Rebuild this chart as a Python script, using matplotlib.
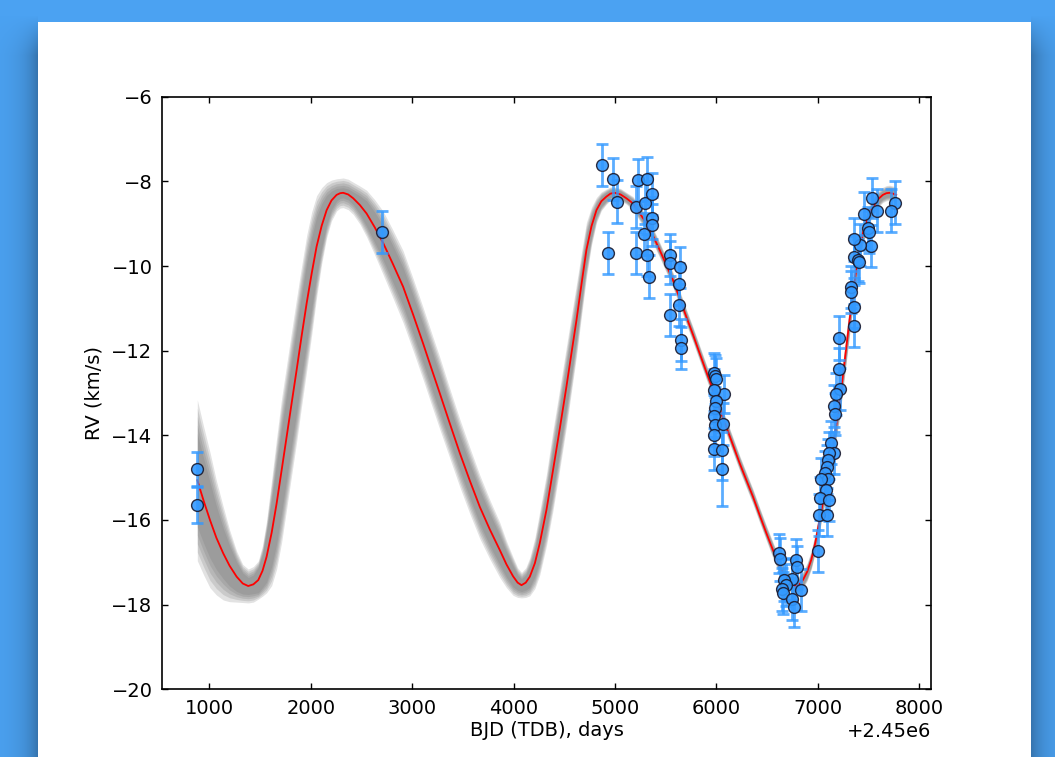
import numpy as np
import matplotlib
matplotlib.use("Agg")
import matplotlib.pyplot as plt

# BJD offset used on the x axis
t0 = 2450000

# observed radial velocities (days after t0, km/s, error)
obs_t = [876, 876, 2701,
         4876, 4928, 4984, 5017, 5204, 5211, 5227, 5286, 5292, 5315, 5319,
         5332, 5362, 5368, 5368,
         5539, 5539, 5637, 5631, 5631, 5546, 5646, 5646,
         5975, 5982, 5992, 6071, 5972, 5992, 5982, 5975, 5982, 6064, 5975,
         5979, 6058, 6058,
         7000, 6616, 6630, 6787, 6793, 6748, 6665, 6689, 6650, 6655, 6829,
         6748, 6761,
         7765, 7716, 7585, 7532, 7453, 7493, 7502, 7526, 7411, 7352, 7352,
         7394, 7404, 7329, 7329, 7352, 7352, 7207, 7207, 7214, 7174, 7158,
         7165, 7132, 7155, 7108, 7099, 7093, 7066, 7099, 7034, 7076, 7024,
         7108, 7010, 7093]
obs_rv = [-14.80, -15.65, -9.20,
          -7.61, -9.69, -7.94, -8.48, -9.70, -8.60, -7.97, -9.24, -8.50, -9.74, -7.94,
          -10.25, -8.30, -8.86, -9.03,
          -9.74, -9.92, -10.03, -10.43, -10.92, -11.16, -11.75, -11.94,
          -12.52, -12.60, -12.68, -13.03, -12.93, -13.20, -13.36, -13.54, -13.76, -13.73, -13.99,
          -14.33, -14.35, -14.80,
          -16.73, -16.79, -16.93, -16.95, -17.12, -17.40, -17.42, -17.53, -17.64, -17.73, -17.65,
          -17.87, -18.05,
          -8.50, -8.69, -8.69, -8.39, -8.76, -9.11, -9.19, -9.53, -9.50, -9.37, -9.78,
          -9.86, -9.90, -10.49, -10.61, -10.96, -11.41, -11.71, -12.44, -12.90, -13.02, -13.31,
          -13.50, -14.17, -14.42, -14.42, -14.58, -14.74, -14.88, -15.02, -15.04, -15.29, -15.49,
          -15.53, -15.88, -15.88]
obs_err = [0.40, 0.43, 0.50,
           0.50, 0.50, 0.50, 0.51, 0.50, 0.50, 0.50, 0.50, 0.50, 0.50, 0.52,
           0.51, 0.49, 0.50, 0.50,
           0.50, 0.50, 0.49, 0.50, 0.50, 0.50, 0.50, 0.50,
           0.47, 0.50, 0.50, 0.45, 0.50, 0.50, 0.50, 0.50, 0.50, 0.50, 0.50,
           0.50, 0.70, 0.87,
           0.49, 0.47, 0.50, 0.50, 0.50, 0.50, 0.50, 0.50, 0.50, 0.50, 0.50,
           0.50, 0.47,
           0.50, 0.50, 0.50, 0.47, 0.50, 0.50, 0.50, 0.50, 0.50, 0.50, 0.50,
           0.50, 0.50, 0.50, 0.50, 0.50, 0.51, 0.52, 0.50, 0.50, 0.50, 0.50,
           0.50, 0.50, 0.50, 0.50, 0.50, 0.50, 0.50, 0.50, 0.50, 0.50, 0.50,
           0.50, 0.50, 0.50]

# best-fit orbit (red line)
model_t = [882, 945, 1007, 1070, 1138, 1200, 1270, 1330, 1384, 1435,
           1483, 1525, 1565, 1615, 1664, 1713, 1763, 1812, 1861, 1910,
           1960, 2010, 2058, 2108, 2157, 2205, 2255, 2290, 2320, 2370,
           2419, 2485, 2551, 2630, 2715, 2810, 2911, 3010, 3108, 3190,
           3273, 3370, 3470, 3570, 3667, 3765, 3864, 3930, 3995, 4040,
           4078, 4120, 4160, 4210, 4258, 4325, 4389, 4455, 4521, 4570,
           4620, 4670, 4718, 4768, 4817, 4865, 4915, 4955, 4997, 5055,
           5112, 5177, 5243, 5309, 5375, 5440, 5505, 5571, 5637, 5703,
           5770, 5834, 5900, 5966, 6030, 6097, 6163, 6229, 6295, 6360,
           6425, 6492, 6560, 6623, 6675, 6721, 6770, 6810, 6852, 6895,
           6935, 6976, 7017, 7066, 7115, 7165, 7214, 7263, 7312, 7345,
           7378, 7410, 7443, 7490, 7542, 7590, 7640, 7675, 7706, 7740,
           7772]
model_rv = [-15.06, -15.55, -16.00, -16.42, -16.79, -17.08, -17.34, -17.50, -17.56, -17.52,
            -17.42, -17.20, -16.87, -16.30, -15.61, -14.83, -14.03, -13.24, -12.46, -11.66,
            -10.88, -10.17, -9.54, -9.05, -8.68, -8.45, -8.32, -8.28, -8.27, -8.31,
            -8.40, -8.56, -8.76, -9.08, -9.46, -9.95, -10.49, -11.15, -11.83, -12.42,
            -13.01, -13.71, -14.42, -15.08, -15.69, -16.22, -16.71, -17.05, -17.33, -17.48,
            -17.54, -17.48, -17.34, -17.02, -16.55, -15.75, -14.82, -13.85, -12.85, -12.07,
            -11.28, -10.42, -9.62, -9.06, -8.68, -8.47, -8.36, -8.29, -8.27, -8.31,
            -8.40, -8.52, -8.75, -8.99, -9.29, -9.62, -9.97, -10.33, -10.76, -11.20,
            -11.63, -12.06, -12.50, -12.93, -13.37, -13.80, -14.23, -14.66, -15.06, -15.45,
            -15.88, -16.31, -16.73, -17.10, -17.35, -17.50, -17.56, -17.53, -17.42, -17.22,
            -16.94, -16.52, -16.00, -15.38, -14.74, -14.02, -13.24, -12.26, -11.28, -10.65,
            -10.09, -9.62, -9.23, -8.87, -8.60, -8.43, -8.32, -8.28, -8.27, -8.29,
            -8.32]

# half widths of the posterior sample bundle (dense core and faint outskirts)
band_core = [1.10, 1.00, 0.90, 0.75, 0.60, 0.48, 0.35, 0.25, 0.20, 0.22,
             0.30, 0.40, 0.60, 0.80, 0.95, 1.00, 1.00, 1.00, 1.00, 0.98,
             0.95, 0.85, 0.70, 0.52, 0.35, 0.22, 0.15, 0.12, 0.12, 0.13,
             0.15, 0.22, 0.30, 0.36, 0.40, 0.43, 0.45, 0.45, 0.45, 0.45,
             0.45, 0.42, 0.40, 0.40, 0.40, 0.38, 0.35, 0.30, 0.25, 0.18,
             0.15, 0.18, 0.25, 0.32, 0.40, 0.45, 0.50, 0.50, 0.50, 0.48,
             0.45, 0.40, 0.35, 0.25, 0.15, 0.12, 0.10, 0.09, 0.08, 0.08,
             0.08, 0.09, 0.10, 0.10, 0.10, 0.10, 0.10, 0.10, 0.10, 0.10,
             0.10, 0.10, 0.10, 0.10, 0.10, 0.10, 0.10, 0.10, 0.10, 0.10,
             0.10, 0.10, 0.11, 0.12, 0.12, 0.12, 0.12, 0.12, 0.12, 0.13,
             0.14, 0.15, 0.16, 0.17, 0.18, 0.19, 0.20, 0.21, 0.22, 0.21,
             0.20, 0.18, 0.16, 0.14, 0.12, 0.11, 0.10, 0.10, 0.10, 0.10,
             0.10]
band_outer = [1.90, 1.75, 1.60, 1.35, 1.10, 0.85, 0.60, 0.45, 0.40, 0.42,
              0.45, 0.60, 0.85, 1.25, 1.55, 1.70, 1.70, 1.70, 1.70, 1.65,
              1.60, 1.45, 1.20, 0.90, 0.65, 0.48, 0.38, 0.35, 0.35, 0.36,
              0.38, 0.45, 0.55, 0.65, 0.75, 0.80, 0.85, 0.85, 0.85, 0.85,
              0.85, 0.82, 0.80, 0.78, 0.75, 0.70, 0.65, 0.55, 0.45, 0.35,
              0.30, 0.35, 0.45, 0.60, 0.75, 0.85, 0.95, 0.95, 0.95, 0.90,
              0.85, 0.75, 0.65, 0.45, 0.30, 0.22, 0.18, 0.16, 0.14, 0.14,
              0.14, 0.16, 0.18, 0.18, 0.18, 0.18, 0.18, 0.18, 0.18, 0.18,
              0.18, 0.18, 0.18, 0.18, 0.18, 0.18, 0.18, 0.18, 0.18, 0.18,
              0.18, 0.18, 0.19, 0.20, 0.20, 0.20, 0.20, 0.20, 0.20, 0.21,
              0.22, 0.24, 0.26, 0.28, 0.30, 0.32, 0.34, 0.35, 0.36, 0.34,
              0.32, 0.29, 0.26, 0.23, 0.20, 0.19, 0.18, 0.18, 0.18, 0.18,
              0.18]

W, H = 1055, 757
fig = plt.figure(figsize=(W / 100, H / 100), dpi=100)

# blue frame with a soft shadow around the white sheet
px, py = np.meshgrid(np.arange(W), np.arange(H))
left, right, top = 38, 1031, 22
dx = np.where(px < left, left - px, np.where(px >= right, px - right + 1, 0))
fade = np.clip((py - 15) / 40.0, 0, 1)
dark = 0.30 * np.exp(-dx / 14.0) * fade
dark = np.where(dx > 0, dark, 0.0)
base = np.array([0x4b, 0xa2, 0xf2]) / 255.0
img = base[None, None, :] * (1 - dark[..., None])
inside = (px >= left) & (px < right) & (py >= top)
img[inside] = 1.0
bg = fig.add_axes([0, 0, 1, 1])
bg.imshow(img, extent=(0, W, H, 0), aspect="auto", interpolation="nearest")
bg.set_axis_off()

ax = fig.add_axes([162.3 / W, 1 - 689.3 / H, (931 - 162.3) / W, (689.3 - 96.7) / H])
ax.set_zorder(2)
ax.set_facecolor("white")

mt = t0 + np.array(model_t)
my = np.array(model_rv)
wo = np.array(band_outer)
wc = np.array(band_core)
# stacked translucent layers give a soft-edged bundle
for k in [0.0, 0.25, 0.5, 0.75, 1.0]:
    w = wo + k * (wc - wo)
    ax.fill_between(mt, my - w, my + w, color="#6e6e6e", alpha=0.2, lw=0)
ax.plot(mt, my, color="red", lw=1.3, zorder=3)

ax.errorbar(t0 + np.array(obs_t), obs_rv, yerr=obs_err, fmt="none",
            ecolor="#3399ff", elinewidth=2, capsize=4, capthick=2, alpha=0.8, zorder=4)
ax.plot(t0 + np.array(obs_t), obs_rv, "o", ms=8.5, mfc="#3399ff", mec="#1a1a2e",
        mew=1.0, alpha=0.9, zorder=5)

ax.set_xlim(t0 + 537, t0 + 8115)
ax.set_ylim(-20, -6)
ax.set_xticks(t0 + np.arange(1000, 8001, 1000))
ax.set_yticks(np.arange(-20, -5, 2))
ax.ticklabel_format(axis="x", useOffset=t0)
ax.tick_params(direction="in", length=4, width=1, top=True, right=True, labelsize=14, pad=7)
ax.xaxis.get_offset_text().set_fontsize(14)
for s in ax.spines.values():
    s.set_linewidth(1.2)
ax.set_xlabel("BJD (TDB), days", fontsize=14, labelpad=2)
ax.set_ylabel("RV (km/s)", fontsize=14, labelpad=6)

fig.savefig("out.png", dpi=100)
